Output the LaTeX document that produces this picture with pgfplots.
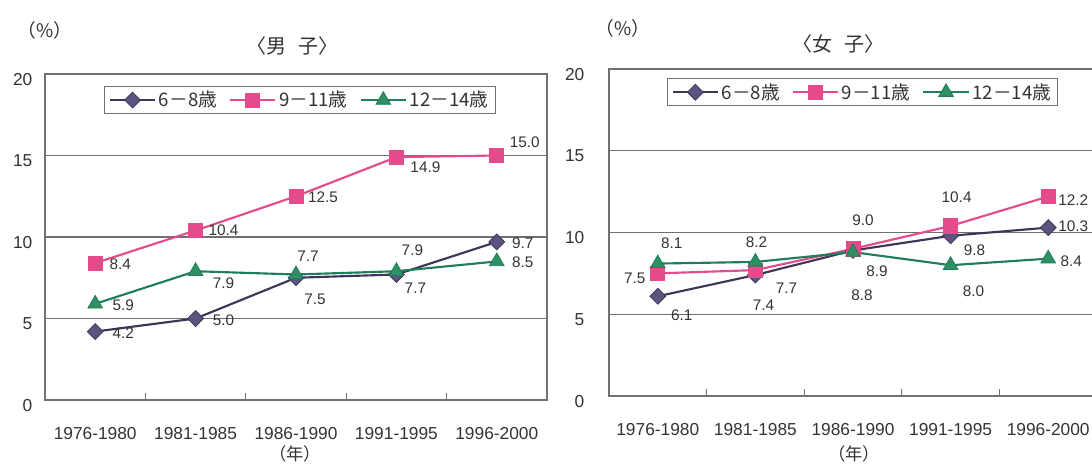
\documentclass[border=0pt]{standalone}
\usepackage{pgfplots}
\pgfplotsset{compat=1.18}
\usepackage{fontspec}
\setmainfont{Liberation Sans}
\newfontfamily\jp{Noto Sans CJK JP}

\definecolor{cA}{HTML}{3B3757}
\definecolor{cAfill}{HTML}{5A5580}
\definecolor{cB}{HTML}{E54B8B}
\definecolor{cC}{HTML}{1E7D5A}
\definecolor{cCfill}{HTML}{2E9063}
\definecolor{gridc}{HTML}{707070}
\definecolor{txt}{HTML}{333333}

\pgfplotsset{
  panel/.style={
    scale only axis, clip=false,
    xmin=-0.5, xmax=4.5, ymin=0, ymax=20,
    xtick={0,...,4},
    xticklabels={1976-1980,1981-1985,1986-1990,1991-1995,1996-2000},
    minor xtick={0.5,1.5,2.5,3.5},
    ytick={0,5,10,15,20},
    ymajorgrids, grid style={gridc, line width=0.8pt},
    major tick length=0pt, minor tick length=5pt, tick align=inside,
    xtick pos=bottom, ytick pos=left,
    minor x tick style={gridc, line width=0.8pt},
    axis line style={gridc, line width=0.9pt},
    tick label style={font=\fontsize{13}{15}\selectfont, text=txt},
    /pgf/number format/assume math mode=true,
    xticklabel style={anchor=center, yshift=-25pt},
    yticklabel style={anchor=east, xshift=-6pt, yshift=-4pt},
    legend columns=3,
    legend style={draw=gridc, line width=0.8pt, text=txt,
      font=\jp\fontsize{14}{16}\selectfont, anchor=north,
      inner ysep=1.5pt, inner xsep=3pt,
      /tikz/every even column/.append style={column sep=7pt}},
    legend image code/.code={\draw[mark repeat=2,mark phase=2,#1]
      plot coordinates {(0pt,0pt) (17pt,0pt) (34pt,0pt)};},
  },
  sA/.style={cA, line width=1.6pt, mark=square*, mark size=4.2pt,
    mark options={rotate=45, fill=cAfill, draw=cA, line width=0.6pt}},
  sB/.style={cB, line width=1.6pt, mark=square*, mark size=5.3pt,
    mark options={fill=cB, draw=cB, line width=0.6pt}},
  sC/.style={cC, line width=1.6pt, mark=triangle*, mark size=6.3pt,
    mark options={fill=cCfill, draw=cC, line width=0.6pt}},
  lbl/.style={only marks, mark=none, forget plot,
    nodes near coords, point meta=explicit symbolic,
    nodes near coords style={anchor=center, xshift=\dx*0.75pt,
      yshift=\dy*0.75pt, text=txt, font=\fontsize{11.5}{13}\selectfont}},
}

\begin{document}
\begin{tikzpicture}
\path[use as bounding box] (0,0) rectangle (819pt,348.75pt);

\begin{axis}[panel, at={(33.75pt,48.75pt)}, anchor=south west,
  width=376.5pt, height=244.5pt,
  legend style={at={(0.508,0.963)}}]
\addplot[sA] coordinates {(0,4.2) (1,5.0) (2,7.5) (3,7.7) (4,9.7)};
\addplot[sB] coordinates {(0,8.4) (1,10.4) (2,12.5) (3,14.9) (4,15.0)};
\addplot[sC] coordinates {(0,5.9) (1,7.9) (2,7.7) (3,7.9) (4,8.5)};
\legend{6－8歳,9－11歳,12－14歳}
% value labels: offsets in px from the point (dy up)
\addplot[lbl,
  visualization depends on={\thisrow{dx}\as\dx},
  visualization depends on={\thisrow{dy}\as\dy}]
  table[x=x, y=y, meta=lab] {
x y lab dx dy
0 8.4 8.4 25 -1
1 10.4 10.4 28 0
2 12.5 12.5 27 -1
3 14.9 14.9 29 -10
4 15.0 15.0 28 13
0 4.2 4.2 28 -2
1 5.0 5.0 28 -2
2 7.5 7.5 19 -22
3 7.7 7.7 19 -14
4 9.7 9.7 26 -1
0 5.9 5.9 28 -1
1 7.9 7.9 28 -12
2 7.7 7.7 12 18
3 7.9 7.9 16 21
4 8.5 8.5 26 -1
};
\end{axis}

\begin{axis}[panel, at={(456.75pt,51.75pt)}, anchor=south west,
  width=366pt, height=245.25pt,
  yticklabel style={xshift=-9pt},
  legend style={at={(0.52,0.972)}}]
\addplot[sA] coordinates {(0,6.1) (1,7.4) (2,8.9) (3,9.8) (4,10.3)};
\addplot[sB] coordinates {(0,7.5) (1,7.7) (2,9.0) (3,10.4) (4,12.2)};
\addplot[sC] coordinates {(0,8.1) (1,8.2) (2,8.8) (3,8.0) (4,8.4)};
\legend{6－8歳,9－11歳,12－14歳}
\addplot[lbl,
  visualization depends on={\thisrow{dx}\as\dx},
  visualization depends on={\thisrow{dy}\as\dy}]
  table[x=x, y=y, meta=lab] {
x y lab dx dy
0 8.1 8.1 14 20
0 7.5 7.5 -23 -5
0 6.1 6.1 24 -19
1 8.2 8.2 1 20
1 7.7 7.7 31 -18
1 7.4 7.4 8 -30
2 9.0 9.0 10 29
2 8.9 8.9 24 -21
2 8.8 8.8 9 -43
3 10.4 10.4 6 29
3 9.8 9.8 24 -14
3 8.0 8.0 23 -26
4 12.2 12.2 25 -4
4 10.3 10.3 25 1
4 8.4 8.4 23 -3
};
\end{axis}

\begin{scope}[every node/.style={text=txt}]
\node[font=\jp\fontsize{14}{16}\selectfont] at (33.75pt,326.25pt) {（\%）};
\node[font=\jp\fontsize{15}{17}\selectfont] at (219pt,314.25pt) {〈男\hspace{0.6em}子〉};
\node[font=\jp\fontsize{13}{15}\selectfont] at (221.25pt,8pt) {（年）};
\node[font=\jp\fontsize{14}{16}\selectfont] at (467.25pt,327.75pt) {（\%）};
\node[font=\jp\fontsize{15}{17}\selectfont] at (628.5pt,315.75pt) {〈女\hspace{0.6em}子〉};
\node[font=\jp\fontsize{13}{15}\selectfont] at (640.5pt,8pt) {（年）};
\end{scope}
\end{tikzpicture}
\end{document}
